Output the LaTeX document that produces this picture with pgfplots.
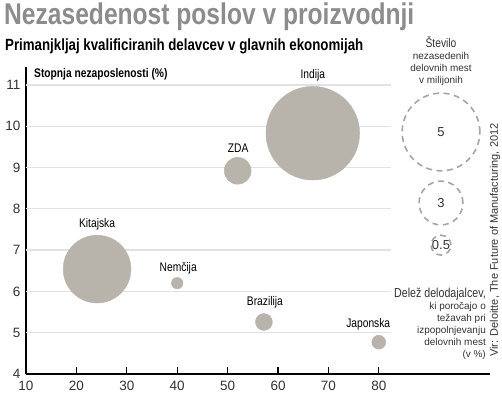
\documentclass[border=0pt]{standalone}
\usepackage{fontspec}
\setmainfont{Liberation Sans}
\newfontfamily\narrow[FakeStretch=0.82]{Liberation Sans}
\usepackage{pgfplots}
\pgfplotsset{compat=1.18}
\usepackage{pgfplotstable}
\definecolor{bub}{HTML}{B8B3AB}
\definecolor{gridc}{HTML}{DDE3E8}
\definecolor{titlec}{HTML}{8C8C8C}
\definecolor{txt}{HTML}{333333}
\definecolor{dash}{HTML}{A5A5A5}
\pgfplotstableread{
x y r
24.1 6.54 34
40.0 6.20 5.8
52.0 8.92 13.5
66.9 9.83 47
57.2 5.26 8.5
80.0 4.77 7
}\bubbles
\pgfplotstableread{
x y r
92.34 9.86 39
92.34 8.14 22
92.34 7.12 10
}\legcircles
\begin{document}
\begin{tikzpicture}[x=1bp,y=1bp]
\path[use as bounding box] (0,0) rectangle (502,393);
\node[anchor=west,inner sep=0pt,text=titlec] at (4,376) {\fontsize{30bp}{32bp}\selectfont\narrow\bfseries Nezasedenost poslov v proizvodnji};
\node[anchor=west,inner sep=0pt,text=black] at (5,347) {\fontsize{16.2bp}{18bp}\selectfont\narrow\bfseries Primanjkljaj kvalificiranih delavcev v glavnih ekonomijah};
\node[align=center,inner sep=0pt,text=txt] at (441,332) {\fontsize{12.5bp}{12bp}\selectfont\narrow \v{S}tevilo\\nezasedenih\\delovnih mest\\v milijonih};
\node[anchor=west,inner sep=0pt,text=black] at (34,319) {\fontsize{12.5bp}{14bp}\selectfont\narrow\bfseries Stopnja nezaposlenosti (\%)};
\node[anchor=east,align=right,inner sep=0pt,text=txt] at (486,69) {\fontsize{13bp}{12.4bp}\selectfont\narrow Dele\v{z} delodajalcev,\\ki poro\v{c}ajo o\\te\v{z}avah pri\\izpopolnjevanju\\delovnih mest\\(v \%)};
\node[rotate=90,inner sep=0pt,text=txt] at (495,153) {\fontsize{11bp}{13bp}\selectfont Vir: Deloitte, The Future of Manufacturing, 2012};
\begin{axis}[
  at={(26bp,19bp)}, anchor=south west,
  x=5.04bp, y=41.3bp,
  xmin=10, xmax=102, ymin=4, ymax=11.43,
  axis x line=bottom, axis y line=left,
  axis line style={-, line width=1.6bp, black},
  xtick={10,20,...,80}, ytick={4,...,11},
  tick align=inside,
  major tick length=7bp,
  xtick style={line width=1.3bp, black},
  ytick style={draw=none},
  ticklabel style={font=\fontsize{13.5bp}{15bp}\selectfont, text=txt},
  /pgf/number format/assume math mode=true,
  xticklabel style={yshift=-4bp},
  yticklabel style={xshift=-2bp},
  clip=false,
]
\foreach \yy in {5,...,11} {
  \edef\temp{\noexpand\draw[gridc, line width=1.3bp] (axis cs:10,\yy) -- (axis cs:82.5,\yy);}
  \temp
}
\addplot[only marks, scatter, mark=*,
  scatter/use mapped color={draw=bub, fill=bub},
  visualization depends on={\thisrow{r} \as \rr},
  scatter/@pre marker code/.append style={/tikz/mark size=\rr}]
  table[x=x,y=y] {\bubbles};
\addplot[only marks, scatter, mark=o,
  scatter/use mapped color={draw=dash},
  visualization depends on={\thisrow{r} \as \rr},
  scatter/@pre marker code/.append style={/tikz/mark size=\rr},
  mark options={line width=1.6bp, dash pattern=on 6bp off 4.5bp, fill=none}]
  table[x=x,y=y] {\legcircles};
\begin{scope}[every node/.style={text=black, font=\fontsize{12.5bp}{14bp}\selectfont\narrow}]
\node at (axis cs:24.1,7.63) {Kitajska};
\node at (axis cs:40.2,6.56) {Nem\v{c}ija};
\node at (axis cs:52.1,9.47) {ZDA};
\node at (axis cs:66.9,11.24) {Indija};
\node at (axis cs:57.4,5.74) {Brazilija};
\node at (axis cs:77.9,5.21) {Japonska};
\end{scope}
\begin{scope}[every node/.style={text=txt, font=\fontsize{13bp}{15bp}\selectfont}]
\node at (axis cs:92.34,9.86) {5};
\node at (axis cs:92.34,8.14) {3};
\node at (axis cs:92.34,7.12) {0.5};
\end{scope}
\end{axis}
\end{tikzpicture}
\end{document}
